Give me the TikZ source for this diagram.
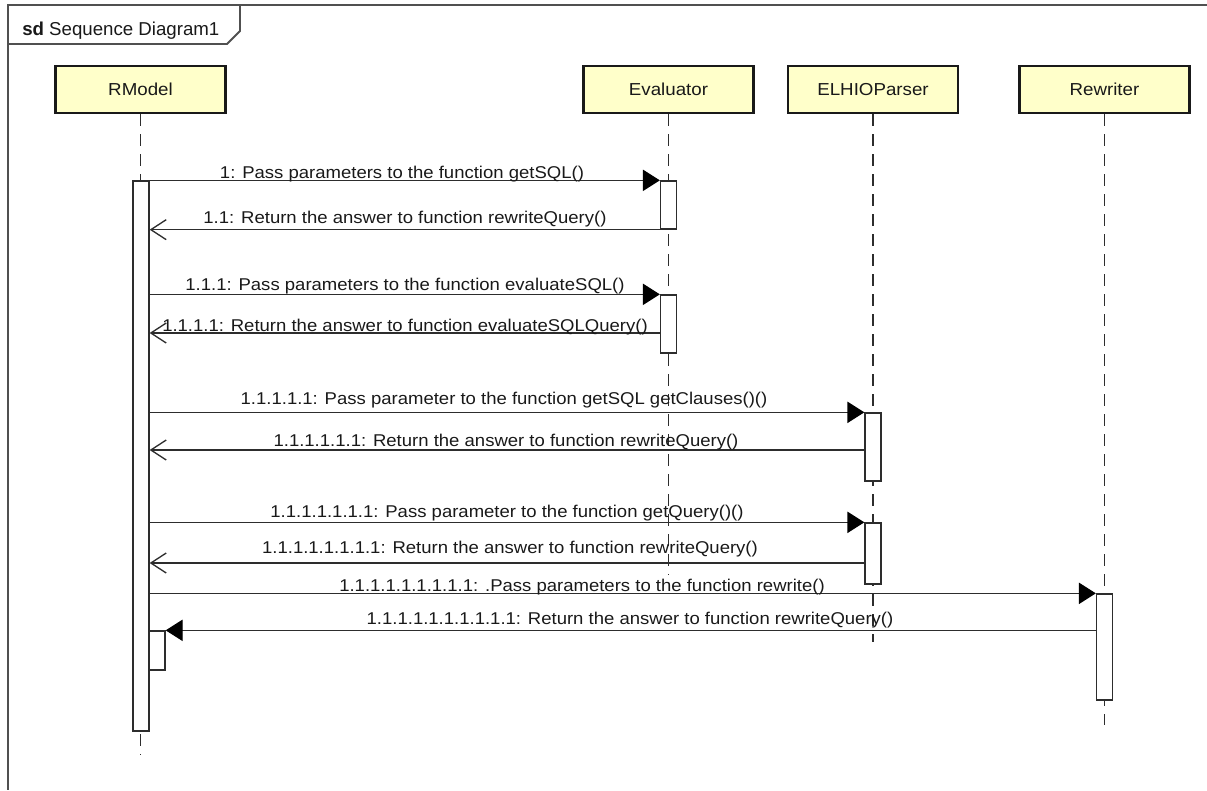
\documentclass[tikz,border=0pt]{standalone}
\usepackage{graphicx}
\usepackage{fontspec}
\setmainfont{Liberation Sans}
\usetikzlibrary{arrows.meta,calc}

\definecolor{lineclr}{RGB}{45,45,45}
\definecolor{headfill}{RGB}{255,255,202}
\definecolor{frameclr}{RGB}{80,80,80}
\definecolor{txtclr}{RGB}{25,25,25}

% slightly widened sans text for message and lifeline labels
\newcommand{\msgtxt}[1]{\scalebox{1.085}[1]{#1}}
\newcommand{\headtxt}[1]{\scalebox{1.08}[1]{#1}}

\begin{document}
\begin{tikzpicture}[x=0.75pt,y=-0.75pt,
  frameline/.style={draw=frameclr, line width=1.4pt},
  head/.style={draw=black!90, line width=1.9pt, fill=headfill,
    minimum width=127.5pt, minimum height=35pt, inner sep=0pt,
    text=txtclr, font=\fontsize{13}{15}\selectfont},
  life/.style={draw=lineclr, line width=1pt, dash pattern=on 9pt off 6pt},
  bar/.style={draw=lineclr, line width=1pt, fill=white,
    minimum width=12pt, inner sep=0pt},
  barh/.style={minimum height=#1*0.75pt},
  msg/.style={draw=lineclr, line width=1pt},
  call/.style={msg, -{Triangle[length=12.75pt,width=16pt,fill=black,color=black]}},
  ret/.style={msg, -{Straight Barb[length=11.5pt,width=15pt]}},
  lbl/.style={anchor=base, inner sep=0pt, text=txtclr,
    font=\fontsize{12.8}{14}\selectfont}
]
\useasboundingbox (0,0) rectangle (1207,790);

% diagram frame and its name tab
\draw[frameline] (1207,5) -- (8,5) -- (8,790);
\draw[frameline] (8,44) -- (227,44) -- (240,31) -- (240,5);
\node[anchor=base west, inner sep=0pt, text=txtclr,
  font=\fontsize{14}{16}\selectfont] (title) at (22,35)
  {\textbf{sd} Sequence Diagram1};

% lifeline heads
\node[head] (rmodel) at (140.5,89.5) {\headtxt{RModel}};
\node[head] (eval)   at (668.5,89.5) {\headtxt{Evaluator}};
\node[head] (elhio)  at (873,89.5)   {\headtxt{ELHIOParser}};
\node[head] (rewr)   at (1104.5,89.5){\headtxt{Rewriter}};

% lifeline ends
\coordinate (rmEnd) at (140.5,755);
\coordinate (evEnd) at (668.5,575);
\coordinate (elEnd) at (873,642);
\coordinate (rwEnd) at (1104.5,725);

\draw[life] (rmodel.south) -- (rmEnd);
\draw[life] (eval.south) -- (evEnd);
\draw[life] (elhio.south) -- (elEnd);
\draw[life] (rewr.south) -- (rwEnd);

% activation bars
\node[bar, barh=550] (rm1) at (141,456) {};
\node[bar, barh=39]  (rm2) at (157,650.5) {};
\node[bar, barh=48]  (ev1) at (668.5,205) {};
\node[bar, barh=58]  (ev2) at (668.5,324) {};
\node[bar, barh=68]  (el1) at (873,447) {};
\node[bar, barh=61]  (el2) at (873,553.5) {};
\node[bar, barh=106] (rw1) at (1104.5,647) {};

% return points that do not sit on a bar corner
\coordinate (r4)  at (660.5,333);
\coordinate (r6)  at (865,450);
\coordinate (r8)  at (865,563);

% messages
\draw[call] (ev1.north west -| rm1.east) -- (ev1.north west);
\draw[ret]  (ev1.south west) -- (ev1.south west -| rm1.east);
\draw[call] (ev2.north west -| rm1.east) -- (ev2.north west);
\draw[ret]  (r4) -- (r4 -| rm1.east);
\draw[call] (el1.north west -| rm1.east) -- (el1.north west);
\draw[ret]  (r6) -- (r6 -| rm1.east);
\draw[call] (el2.north west -| rm1.east) -- (el2.north west);
\draw[ret]  (r8) -- (r8 -| rm1.east);
\draw[call] (rw1.north west -| rm1.east) -- (rw1.north west);
\draw[call] (rw1.west |- rm2.north east) -- (rm2.north east);

% message labels
\node[lbl] (l1)  at (402,178) {\msgtxt{1: Pass parameters to the function getSQL()}};
\node[lbl] (l2)  at (405,223) {\msgtxt{1.1: Return the answer to function rewriteQuery()}};
\node[lbl] (l3)  at (405,290) {\msgtxt{1.1.1: Pass parameters to the function evaluateSQL()}};
\node[lbl] (l4)  at (405,331) {\msgtxt{1.1.1.1: Return the answer to function evaluateSQLQuery()}};
\node[lbl] (l5)  at (504,404) {\msgtxt{1.1.1.1.1: Pass parameter to the function getSQL getClauses()()}};
\node[lbl] (l6)  at (506,446) {\msgtxt{1.1.1.1.1.1: Return the answer to function rewriteQuery()}};
\node[lbl] (l7)  at (507,517) {\msgtxt{1.1.1.1.1.1.1: Pass parameter to the function getQuery()()}};
\node[lbl] (l8)  at (510,553) {\msgtxt{1.1.1.1.1.1.1.1: Return the answer to function rewriteQuery()}};
\node[lbl] (l9)  at (582,591) {\msgtxt{1.1.1.1.1.1.1.1.1: .Pass parameters to the function rewrite()}};
\node[lbl] (l10) at (630,624) {\msgtxt{1.1.1.1.1.1.1.1.1.1: Return the answer to function rewriteQuery()}};
\end{tikzpicture}
\end{document}
